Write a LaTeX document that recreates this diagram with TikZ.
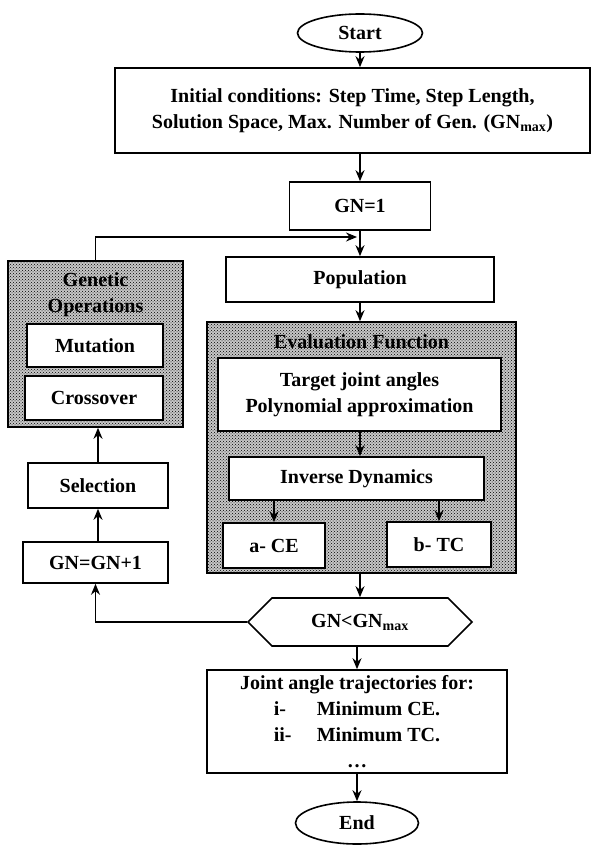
\documentclass[tikz,border=0pt]{standalone}
\usepackage{fontspec}
\setmainfont{Liberation Serif}
\usetikzlibrary{shapes.geometric,shapes.symbols,arrows.meta,patterns}
\begin{document}
\begin{tikzpicture}[x=1pt,y=-1pt,
  every node/.style={font=\fontsize{20}{26}\selectfont\bfseries, inner sep=0pt, align=center},
  box/.style={draw, line width=1.6pt, fill=white, minimum width=#1},
  shaded/.style={draw, line width=1.6pt, preaction={fill=black!22}, pattern=crosshatch dots, pattern color=black, minimum width=#1},
  oval/.style={draw, ellipse, line width=1.6pt, fill=white, minimum width=#1},
  hexa/.style={draw, signal, signal to=west and east, signal pointer angle=90, line width=1.6pt, fill=white, minimum width=#1},
  label/.style={fill=none, draw=none},
  arr/.style={line width=1.6pt, -{Stealth[length=11pt,width=9pt]}},
  ln/.style={line width=1.6pt}
]
\useasboundingbox (0,0) rectangle (593,845);
% main column
\node[oval=125pt, minimum height=38pt] (start) at (360,33) {Start};
\node[box=475pt, minimum height=85pt] (init) at (352.5,110.5) {\fontsize{20}{27}\selectfont Initial conditions: Step Time, Step Length,\\\fontsize{20}{27}\selectfont Solution Space, Max. Number of Gen. (GN\textsubscript{max})};
\node[box=141pt, minimum height=48pt] (gn1) at (360,206) {GN=1};
\node[box=268pt, minimum height=45pt] (pop) at (360,279.5) {Population};
\node[shaded=309pt, minimum height=251pt] (eval) at (361.5,447.5) {};
\node[label] (evt) at (361.5,342) {Evaluation Function};
\node[box=283pt, minimum height=73pt] (target) at (359.5,394.5) {\fontsize{20}{23}\selectfont Target joint angles\\\fontsize{20}{23}\selectfont Polynomial approximation};
\node[box=255pt, minimum height=43pt] (inv) at (356.5,478.5) {Inverse Dynamics};
\node[box=102pt, minimum height=45pt] (ace) at (274,545.5) {a- CE};
\node[box=104pt, minimum height=45pt] (btc) at (439,544.5) {b- TC};
\node[hexa=224pt, minimum height=48pt] (hex) at (360,622) {GN<GN\textsubscript{max}};
\node[box=300pt, minimum height=103pt] (joint) at (357,721.5) {\fontsize{20}{25}\selectfont Joint angle trajectories for:\\
  \fontsize{20}{25}\selectfont\makebox[43pt][l]{i-}Minimum CE.\\
  \fontsize{20}{25}\selectfont\makebox[43pt][l]{ii-}Minimum TC.\\
  \fontsize{20}{16}\selectfont\ldots};
\node[oval=123pt, minimum height=42pt] (end) at (357,823) {End};
% left column
\node[shaded=175pt, minimum height=166pt] (go) at (95.5,344) {};
\node[label] (got) at (95.5,295) {\fontsize{20}{24}\selectfont Genetic\\\fontsize{20}{24}\selectfont Operations};
\node[box=136pt, minimum height=43pt] (mut) at (95,345.5) {Mutation};
\node[box=138pt, minimum height=44pt] (cross) at (94,398) {Crossover};
\node[box=140pt, minimum height=45pt] (sel) at (98,485.5) {Selection};
\node[box=145pt, minimum height=41pt] (gnp) at (95.5,562.5) {GN=GN+1};
\coordinate (loopend) at (357,237);
% connectors
\draw[arr] (start) -- (init.north -| start);
\draw[arr] (init.south -| gn1) -- (gn1);
\draw[arr] (gn1) -- (pop);
\draw[arr] (pop.south) -- (eval.north -| pop.south);
\draw[arr] (target.south -| pop.south) -- (inv.north -| pop.south);
\draw[arr] (inv.south -| ace.north) -- (ace.north);
\draw[arr] (inv.south -| btc.north) -- (btc.north);
\draw[arr] (eval.south -| hex.north) -- (hex.north);
\draw[arr] (hex.south -| joint.north) -- (joint.north);
\draw[arr] (joint.south -| end.north) -- (end.north);
\draw[arr] (hex.west) -| (gnp.south);
\draw[arr] (gnp.north -| sel.south) -- (sel.south);
\draw[arr] (sel.north) -- (go.south -| sel.north);
\draw[arr] (go.north) |- (loopend);
\end{tikzpicture}
\end{document}
